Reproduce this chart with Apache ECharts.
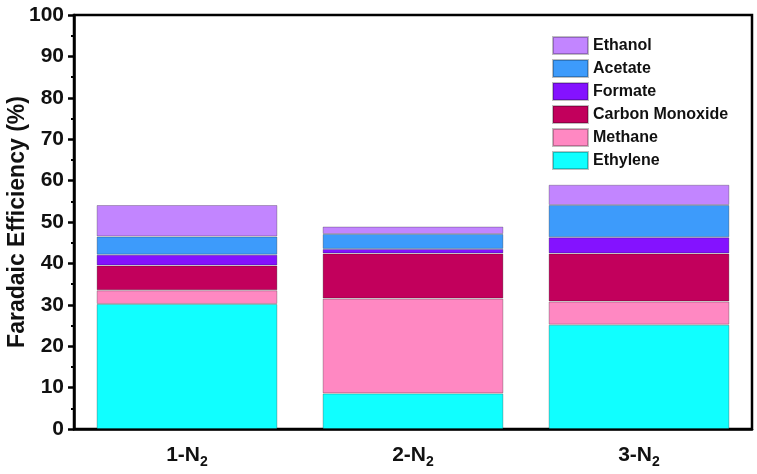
<!DOCTYPE html>
<html>
<head>
<meta charset="utf-8">
<script src="https://cdn.jsdelivr.net/npm/echarts@6/dist/echarts.min.js"></script>
<style>
  html, body { margin: 0; padding: 0; background: #fff; }
  #chart { width: 757px; height: 474px; }
</style>
</head>
<body>
<div id="chart"></div>
<script>
// 样品（x轴类目）
const samples = ['1', '2', '3'];
// 各产物的法拉第效率 (%)，自下而上堆叠
const ethylene = [30.2, 8.6, 25.2];
const methane = [3.3, 22.9, 5.6];
const carbonMonoxide = [6.0, 10.9, 11.6];
const formate = [2.6, 1.1, 3.9];
const acetate = [4.4, 3.6, 7.8];
const ethanol = [7.6, 1.8, 4.9];
const yTicks = [0, 10, 20, 30, 40, 50, 60, 70, 80, 90, 100];

const font = '"Liberation Sans", Arial, sans-serif';

const chart = echarts.init(document.getElementById('chart'));

// 系列：名称、数据、颜色
const seriesDefs = [
  { name: 'Ethylene', data: ethylene, color: '#10ffff' },
  { name: 'Methane', data: methane, color: '#ff88c2' },
  { name: 'Carbon Monoxide', data: carbonMonoxide, color: '#c2005c' },
  { name: 'Formate', data: formate, color: '#8412ff' },
  { name: 'Acetate', data: acetate, color: '#3d9bfb' },
  { name: 'Ethanol', data: ethanol, color: '#c285ff' }
];

const option = {
  animation: false,
  grid: {
    left: 74, right: 5, top: 15, bottom: 45,
    outerBoundsMode: 'none',
    show: true, borderColor: '#000', borderWidth: 2.5
  },
  legend: {
    data: ['Ethanol', 'Acetate', 'Formate', 'Carbon Monoxide', 'Methane', 'Ethylene'],
    orient: 'vertical',
    left: 547, top: 31,
    itemWidth: 35, itemHeight: 17, itemGap: 4,
    icon: 'rect',
    textStyle: { fontFamily: font, fontWeight: 'bold', fontSize: 16, color: '#111' }
  },
  xAxis: [
    {
      type: 'category',
      data: samples,
      axisLine: { lineStyle: { color: '#000', width: 2.5 } },
      axisTick: { alignWithLabel: true, length: 6, lineStyle: { color: '#000', width: 2.5 } },
      axisLabel: {
        margin: 12,
        formatter: v => '{a|' + v + '-N}{s|2}',
        rich: {
          a: { fontFamily: font, fontWeight: 'bold', fontSize: 21, color: '#111' },
          s: { fontFamily: font, fontWeight: 'bold', fontSize: 14, color: '#111', padding: [14, 0, 0, 0] }
        }
      }
    },
    {
      // 类目边界处的刻度
      type: 'category',
      data: samples,
      position: 'bottom',
      axisLine: { show: false },
      axisTick: { length: 6, lineStyle: { color: '#000', width: 2.5 } },
      axisLabel: { show: false }
    }
  ],
  yAxis: {
    type: 'value',
    min: yTicks[0], max: yTicks[yTicks.length - 1], interval: 10,
    name: 'Faradaic Efficiency (%)',
    nameLocation: 'middle',
    nameGap: 45,
    nameMoveOverlap: false,
    nameTextStyle: { fontFamily: font, fontWeight: 'bold', fontSize: 23, color: '#111' },
    axisLine: { show: true, lineStyle: { color: '#000', width: 2.5 } },
    axisTick: { show: true, length: 6, lineStyle: { color: '#000', width: 2.5 } },
    minorTick: { show: true, splitNumber: 2, length: 3, lineStyle: { color: '#000', width: 2 } },
    splitLine: { show: false },
    axisLabel: { margin: 10, fontFamily: font, fontWeight: 'bold', fontSize: 21, color: '#111' }
  },
  series: seriesDefs.map(s => ({
    name: s.name,
    type: 'bar',
    stack: 'fe',
    xAxisIndex: 0,
    barWidth: '80%',
    data: s.data,
    itemStyle: { color: s.color, borderColor: 'rgba(0,0,0,0.25)', borderWidth: 1 }
  }))
};

chart.setOption(option);
</script>
</body>
</html>
